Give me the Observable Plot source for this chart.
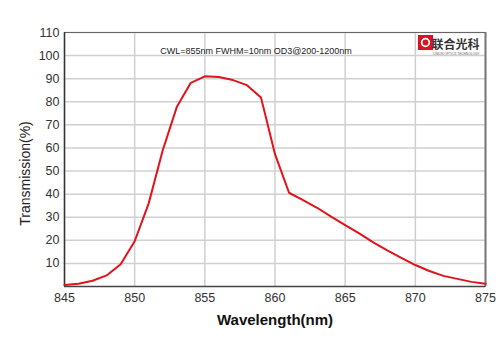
<!DOCTYPE html>
<html>
<head>
<meta charset="utf-8">
<script src="https://cdn.jsdelivr.net/npm/d3@7"></script>
<script src="https://cdn.jsdelivr.net/npm/@observablehq/plot@0.6"></script>
<style>
  html, body { margin: 0; padding: 0; background: #fff; }
  #chart { width: 500px; height: 353px; }
</style>
</head>
<body>
<div id="chart"></div>
<script>
const wavelength = [845,846,847,848,849,850,851,852,853,854,855,856,857,858,859,860,861,862,863,864,865,866,867,868,869,870,871,872,873,874,875];
const transmission = [0.6,1.2,2.5,4.8,9.6,19.6,36,59,77.7,88.2,91.0,90.7,89.4,87.2,81.9,57.3,40.6,37.4,34.1,30.3,26.6,23.0,19.1,15.6,12.4,9.3,6.7,4.6,3.3,2.0,1.2];
const xTicks = [845,850,855,860,865,870,875];
const yTicks = [10,20,30,40,50,60,70,80,90,100,110];
const title = "CWL=855nm FWHM=10nm OD3@200-1200nm";
const xLabel = "Wavelength(nm)";
const yLabel = "Transmission(%)";
const logoText = "联合光科";
const logoSub = "UNION OPTICS TECHNOLOGY";

const data = wavelength.map((w, i) => ({w, t: transmission[i]}));

const chart = Plot.plot({
  width: 500,
  height: 353,
  marginLeft: 64,
  marginRight: 15,
  marginTop: 32,
  marginBottom: 67,
  style: {fontFamily: "Liberation Sans, Arial, sans-serif", fontSize: "12.5px", color: "#333", background: "#fff"},
  x: {domain: [845, 875], ticks: xTicks, tickSize: 0, tickPadding: 7, label: null},
  y: {domain: [0, 110], ticks: yTicks, tickSize: 0, tickPadding: 5, label: null},
  marks: [
    Plot.ruleX(xTicks, {stroke: "#d0d0d0", strokeWidth: 1.5}),
    Plot.ruleY(yTicks, {stroke: "#d0d0d0", strokeWidth: 1.5}),
    Plot.frame({stroke: "#666", strokeWidth: 1}),
    Plot.ruleX([875], {stroke: "#777", strokeWidth: 2}),
    Plot.ruleX([845], {stroke: "#333", strokeWidth: 1.5}),
    Plot.ruleY([0], {stroke: "#444", strokeWidth: 1.5}),
    Plot.line(data, {x: "w", y: "t", stroke: "#e3121b", strokeWidth: 2}),
    Plot.text([title], {frameAnchor: "top", dx: -19, dy: 15, fontSize: 9, fill: "#222"}),
    Plot.text([xLabel], {frameAnchor: "bottom", dy: 38, fontSize: 15, fontWeight: "bold", fill: "#111"}),
    Plot.text([yLabel], {frameAnchor: "left", dx: -39, dy: 14, rotate: -90, textAnchor: "middle", fontSize: 14, fill: "#222"}),
    Plot.dot([0], {frameAnchor: "top-right", dx: -60, dy: 10, symbol: "square", r: 8.5, fill: "#d9141c"}),
    Plot.dot([0], {frameAnchor: "top-right", dx: -60, dy: 10, r: 3.8, fill: "none", stroke: "#fff", strokeWidth: 1.8}),
    Plot.text([logoText], {frameAnchor: "top-right", dx: -6, dy: 8, fontSize: 12, fontWeight: "bold", fill: "#333", fontFamily: "Noto Sans CJK SC", textAnchor: "end"}),
    Plot.text([logoSub], {frameAnchor: "top-right", dx: -6, dy: 20, fontSize: 3.2, fill: "#666", textAnchor: "end"})
  ]
});
document.getElementById("chart").appendChild(chart);
</script>
</body>
</html>
